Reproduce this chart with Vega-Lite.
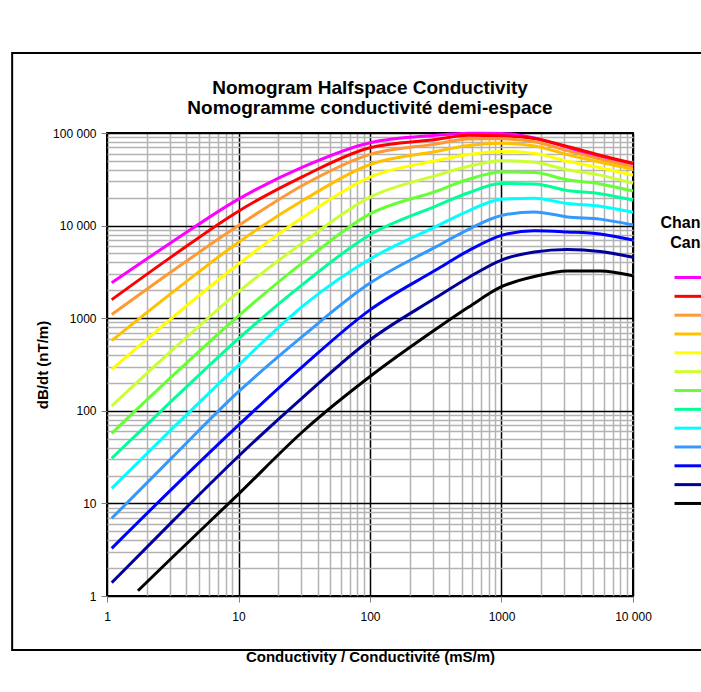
{
  "$schema": "https://vega.github.io/schema/vega-lite/v6.json",
  "width": 526,
  "height": 463,
  "autosize": {"type": "none"},
  "padding": {"left": 107, "top": 133, "right": 68, "bottom": 96},
  "background": "white",
  "config": {
    "font": "Liberation Sans",
    "view": {"stroke": "black", "strokeWidth": 2}
  },
  "title": {
    "text": ["Nomogram Halfspace Conductivity", "Nomogramme conductivité demi-espace"],
    "fontSize": 19,
    "font": "Liberation Sans",
    "fontWeight": "bold",
    "lineHeight": 20,
    "offset": -66,
    "anchor": "middle",
    "color": "black"
  },
  "datasets": {
    "frame": [{"id": "chart frame"}],
    "curves": [
      {"ch": "01", "x": 1.086, "y": 2415}, {"ch": "01", "x": 3.162, "y": 6730}, {"ch": "01", "x": 10, "y": 19320}, {"ch": "01", "x": 31.62, "y": 43550}, {"ch": "01", "x": 100, "y": 78500}, {"ch": "01", "x": 316.2, "y": 94400}, {"ch": "01", "x": 562.3, "y": 99500}, {"ch": "01", "x": 1000, "y": 98900}, {"ch": "01", "x": 1778, "y": 88500}, {"ch": "01", "x": 3162, "y": 70000}, {"ch": "01", "x": 5623, "y": 55000}, {"ch": "01", "x": 10000, "y": 46200},
      {"ch": "02", "x": 1.086, "y": 1585}, {"ch": "02", "x": 3.162, "y": 4710}, {"ch": "02", "x": 10, "y": 14320}, {"ch": "02", "x": 31.62, "y": 34510}, {"ch": "02", "x": 100, "y": 69340}, {"ch": "02", "x": 316.2, "y": 85110}, {"ch": "02", "x": 562.3, "y": 94400}, {"ch": "02", "x": 1000, "y": 93300}, {"ch": "02", "x": 1778, "y": 87100}, {"ch": "02", "x": 3162, "y": 71610}, {"ch": "02", "x": 5623, "y": 57540}, {"ch": "02", "x": 10000, "y": 47100},
      {"ch": "03", "x": 1.086, "y": 1096}, {"ch": "03", "x": 3.162, "y": 3258}, {"ch": "03", "x": 10, "y": 10000}, {"ch": "03", "x": 31.62, "y": 27800}, {"ch": "03", "x": 100, "y": 58750}, {"ch": "03", "x": 316.2, "y": 75860}, {"ch": "03", "x": 562.3, "y": 86100}, {"ch": "03", "x": 1000, "y": 86500}, {"ch": "03", "x": 1778, "y": 80350}, {"ch": "03", "x": 3162, "y": 64570}, {"ch": "03", "x": 5623, "y": 52480}, {"ch": "03", "x": 10000, "y": 43250},
      {"ch": "04", "x": 1.086, "y": 571.5}, {"ch": "04", "x": 3.162, "y": 1910}, {"ch": "04", "x": 10, "y": 6607}, {"ch": "04", "x": 31.62, "y": 19100}, {"ch": "04", "x": 100, "y": 45710}, {"ch": "04", "x": 316.2, "y": 63100}, {"ch": "04", "x": 562.3, "y": 73280}, {"ch": "04", "x": 1000, "y": 77270}, {"ch": "04", "x": 1778, "y": 72440}, {"ch": "04", "x": 3162, "y": 58610}, {"ch": "04", "x": 5623, "y": 48420}, {"ch": "04", "x": 10000, "y": 40550},
      {"ch": "05", "x": 1.086, "y": 280.5}, {"ch": "05", "x": 3.162, "y": 1023}, {"ch": "05", "x": 10, "y": 3846}, {"ch": "05", "x": 31.62, "y": 12590}, {"ch": "05", "x": 100, "y": 33420}, {"ch": "05", "x": 316.2, "y": 50120}, {"ch": "05", "x": 562.3, "y": 58610}, {"ch": "05", "x": 1000, "y": 63100}, {"ch": "05", "x": 1778, "y": 60260}, {"ch": "05", "x": 3162, "y": 49550}, {"ch": "05", "x": 5623, "y": 42170}, {"ch": "05", "x": 10000, "y": 35160},
      {"ch": "06", "x": 1.086, "y": 112.7}, {"ch": "06", "x": 3.162, "y": 457.1}, {"ch": "06", "x": 10, "y": 1928}, {"ch": "06", "x": 31.62, "y": 6714}, {"ch": "06", "x": 100, "y": 20280}, {"ch": "06", "x": 316.2, "y": 34670}, {"ch": "06", "x": 562.3, "y": 43650}, {"ch": "06", "x": 1000, "y": 50120}, {"ch": "06", "x": 1778, "y": 48420}, {"ch": "06", "x": 3162, "y": 40090}, {"ch": "06", "x": 5623, "y": 35080}, {"ch": "06", "x": 10000, "y": 28640},
      {"ch": "07", "x": 1.086, "y": 57.15}, {"ch": "07", "x": 3.162, "y": 239.3}, {"ch": "07", "x": 10, "y": 1059}, {"ch": "07", "x": 31.62, "y": 4111}, {"ch": "07", "x": 100, "y": 13370}, {"ch": "07", "x": 316.2, "y": 23440}, {"ch": "07", "x": 562.3, "y": 31620}, {"ch": "07", "x": 1000, "y": 38020}, {"ch": "07", "x": 1778, "y": 37410}, {"ch": "07", "x": 3162, "y": 31260}, {"ch": "07", "x": 5623, "y": 28180}, {"ch": "07", "x": 10000, "y": 23660},
      {"ch": "08", "x": 1.086, "y": 30.69}, {"ch": "08", "x": 3.162, "y": 131.2}, {"ch": "08", "x": 10, "y": 602.6}, {"ch": "08", "x": 31.62, "y": 2393}, {"ch": "08", "x": 100, "y": 7980}, {"ch": "08", "x": 316.2, "y": 16220}, {"ch": "08", "x": 562.3, "y": 22650}, {"ch": "08", "x": 1000, "y": 28510}, {"ch": "08", "x": 1778, "y": 28180}, {"ch": "08", "x": 3162, "y": 23990}, {"ch": "08", "x": 5623, "y": 22130}, {"ch": "08", "x": 10000, "y": 18880},
      {"ch": "09", "x": 1.086, "y": 14.55}, {"ch": "09", "x": 3.162, "y": 65.01}, {"ch": "09", "x": 10, "y": 311.9}, {"ch": "09", "x": 31.62, "y": 1393}, {"ch": "09", "x": 100, "y": 4355}, {"ch": "09", "x": 316.2, "y": 9772}, {"ch": "09", "x": 562.3, "y": 14450}, {"ch": "09", "x": 1000, "y": 19280}, {"ch": "09", "x": 1778, "y": 19720}, {"ch": "09", "x": 3162, "y": 17300}, {"ch": "09", "x": 5623, "y": 16220}, {"ch": "09", "x": 10000, "y": 13930},
      {"ch": "10", "x": 1.086, "y": 6.902}, {"ch": "10", "x": 3.162, "y": 31.77}, {"ch": "10", "x": 10, "y": 160.7}, {"ch": "10", "x": 31.62, "y": 660.7}, {"ch": "10", "x": 100, "y": 2393}, {"ch": "10", "x": 316.2, "y": 5888}, {"ch": "10", "x": 562.3, "y": 9120}, {"ch": "10", "x": 1000, "y": 12880}, {"ch": "10", "x": 1778, "y": 14060}, {"ch": "10", "x": 3162, "y": 12420}, {"ch": "10", "x": 5623, "y": 11750}, {"ch": "10", "x": 10000, "y": 10140},
      {"ch": "11", "x": 1.086, "y": 3.273}, {"ch": "11", "x": 3.162, "y": 14.62}, {"ch": "11", "x": 10, "y": 69.98}, {"ch": "11", "x": 31.62, "y": 311.9}, {"ch": "11", "x": 100, "y": 1230}, {"ch": "11", "x": 316.2, "y": 3311}, {"ch": "11", "x": 562.3, "y": 5370}, {"ch": "11", "x": 1000, "y": 7852}, {"ch": "11", "x": 1778, "y": 8810}, {"ch": "11", "x": 3162, "y": 8551}, {"ch": "11", "x": 5623, "y": 8128}, {"ch": "11", "x": 10000, "y": 6982},
      {"ch": "12", "x": 1.086, "y": 1.393}, {"ch": "12", "x": 3.162, "y": 6.427}, {"ch": "12", "x": 10, "y": 32.28}, {"ch": "12", "x": 31.62, "y": 144.2}, {"ch": "12", "x": 100, "y": 582.1}, {"ch": "12", "x": 316.2, "y": 1660}, {"ch": "12", "x": 562.3, "y": 2754}, {"ch": "12", "x": 1000, "y": 4246}, {"ch": "12", "x": 1778, "y": 5188}, {"ch": "12", "x": 3162, "y": 5521}, {"ch": "12", "x": 5623, "y": 5248}, {"ch": "12", "x": 10000, "y": 4550},
      {"ch": "13", "x": 1.72, "y": 1.14}, {"ch": "13", "x": 3.162, "y": 2.636}, {"ch": "13", "x": 10, "y": 12.62}, {"ch": "13", "x": 31.62, "y": 61.66}, {"ch": "13", "x": 100, "y": 234.4}, {"ch": "13", "x": 316.2, "y": 758.6}, {"ch": "13", "x": 562.3, "y": 1318}, {"ch": "13", "x": 1000, "y": 2188}, {"ch": "13", "x": 1778, "y": 2818}, {"ch": "13", "x": 3162, "y": 3236}, {"ch": "13", "x": 5623, "y": 3236}, {"ch": "13", "x": 10000, "y": 2877}
    ]
  },
  "layer": [
    {
      "data": {"name": "frame"},
      "mark": {"type": "rect", "fill": null, "stroke": "black", "strokeWidth": 2, "clip": false},
      "encoding": {
        "x": {"datum": 0.19, "type": "quantitative", "scale": {"type": "log", "domain": [1, 10000], "nice": false}},
        "x2": {"datum": 60000},
        "y": {"datum": 731000, "type": "quantitative", "scale": {"type": "log", "domain": [1, 100000], "nice": false}},
        "y2": {"datum": 0.261}
      }
    },
    {
      "data": {"name": "curves"},
      "mark": {"type": "line", "strokeWidth": 3, "interpolate": "monotone"},
      "encoding": {
        "x": {
          "field": "x", "type": "quantitative",
          "scale": {"type": "log", "domain": [1, 10000], "nice": false},
          "axis": {
            "values": [1,2,3,4,5,6,7,8,9,10,20,30,40,50,60,70,80,90,100,200,300,400,500,600,700,800,900,1000,2000,3000,4000,5000,6000,7000,8000,9000,10000],
            "labelExpr": "datum.value == 10000 ? '10 000' : (datum.value == 1000 || datum.value == 100 || datum.value == 10 || datum.value == 1) ? format(datum.value, 'd') : ''",
            "grid": true,
            "gridColor": {"condition": {"test": "abs(log(datum.value)/LN10 - round(log(datum.value)/LN10)) < 0.001", "value": "black"}, "value": "#b3b3b3"},
            "gridWidth": 1.5,
            "tickColor": {"condition": {"test": "abs(log(datum.value)/LN10 - round(log(datum.value)/LN10)) < 0.001", "value": "#808080"}, "value": "transparent"},
            "tickSize": 6,
            "domain": false,
            "labelFontSize": 12,
            "labelColor": "black",
            "labelPadding": 9,
            "labelFlush": false,
            "labelOverlap": false,
            "title": "Conductivity / Conductivité (mS/m)",
            "titleFontSize": 15,
            "titleFontWeight": "bold",
            "titleColor": "black",
            "titlePadding": 27
          }
        },
        "y": {
          "field": "y", "type": "quantitative",
          "scale": {"type": "log", "domain": [1, 100000], "nice": false},
          "axis": {
            "values": [1,2,3,4,5,6,7,8,9,10,20,30,40,50,60,70,80,90,100,200,300,400,500,600,700,800,900,1000,2000,3000,4000,5000,6000,7000,8000,9000,10000,20000,30000,40000,50000,60000,70000,80000,90000,100000],
            "labelExpr": "datum.value == 100000 ? '100 000' : datum.value == 10000 ? '10 000' : (datum.value == 1000 || datum.value == 100 || datum.value == 10 || datum.value == 1) ? format(datum.value, 'd') : ''",
            "grid": true,
            "gridColor": {"condition": {"test": "abs(log(datum.value)/LN10 - round(log(datum.value)/LN10)) < 0.001", "value": "black"}, "value": "#b3b3b3"},
            "gridWidth": 1.5,
            "tickColor": {"condition": {"test": "abs(log(datum.value)/LN10 - round(log(datum.value)/LN10)) < 0.001", "value": "#808080"}, "value": "transparent"},
            "tickSize": 6,
            "domain": false,
            "labelFontSize": 12,
            "labelColor": "black",
            "labelPadding": 5,
            "labelFlush": false,
            "labelOverlap": false,
            "title": "dB/dt (nT/m)",
            "titleFontSize": 15,
            "titleFontWeight": "bold",
            "titleColor": "black",
            "titlePadding": 2
          }
        },
        "color": {
          "field": "ch", "type": "nominal",
          "scale": {
            "domain": ["01","02","03","04","05","06","07","08","09","10","11","12","13"],
            "range": ["#ff00ff","#ff0000","#ff9933","#ffc000","#ffff00","#ccff33","#66ff33","#00ff99","#00ffff","#3399ff","#0000ff","#000099","#000000"]
          },
          "legend": {
            "orient": "none",
            "legendX": 553,
            "legendY": 82,
            "padding": 0,
            "title": ["Channel", "Canal"],
            "titleFontSize": 16,
            "titleFontWeight": "bold",
            "titleColor": "black",
            "titleLineHeight": 20,
            "titleAnchor": "start",
            "titleAlign": "center",
            "titlePadding": 18,
            "symbolType": "M-2,0H2",
            "symbolStrokeWidth": 3,
            "symbolSize": 196,
            "symbolOffset": -12,
            "labelFontSize": 12,
            "labelOffset": 8,
            "labelColor": "black",
            "rowPadding": 3.83
          }
        }
      }
    }
  ]
}
